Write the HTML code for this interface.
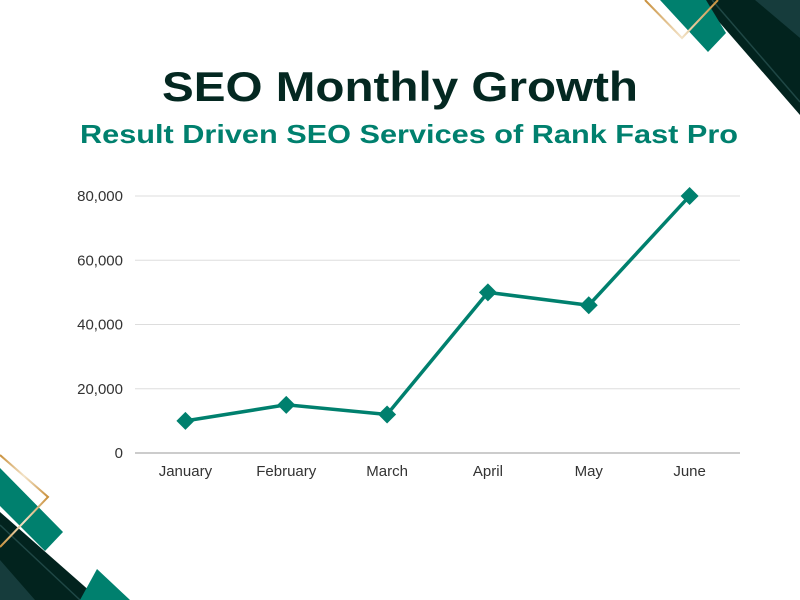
<!DOCTYPE html>
<html><head><meta charset="utf-8"><style>
body{margin:0;background:#fff}
svg{display:block;font-family:"Liberation Sans",sans-serif}
</style></head><body>
<svg width="800" height="600">
<defs>
<linearGradient id="g1" x1="0" y1="0" x2="1" y2="0"><stop offset="0" stop-color="#c9903c"/><stop offset="0.5" stop-color="#f3e3c8"/><stop offset="1" stop-color="#c9903c"/></linearGradient>
</defs>
<g>
<polygon points="700,0 800,0 800,115" fill="#02231e"/>
<polygon points="755,0 800,0 800,38" fill="#163c3c"/>
<line x1="712" y1="0" x2="800" y2="102" stroke="#1f4745" stroke-width="1.5"/>
<polygon points="660,0 706,0 726,33 708,52" fill="#00806e"/>
<polyline points="645,0 682,38 718,0" fill="none" stroke="url(#g1)" stroke-width="2"/>
</g>
<g>
<polygon points="0,468 63,532 45,551 0,506" fill="#00806e"/>
<polygon points="0,512 100,600 0,600" fill="#02231e"/>
<polygon points="0,560 35,600 0,600" fill="#163c3c"/>
<line x1="0" y1="525" x2="80" y2="600" stroke="#1f4745" stroke-width="1.5"/>
<polygon points="80,600 97,569 130,600" fill="#00806e"/>
<polyline points="0,455 48,497 0,547" fill="none" stroke="url(#g1)" stroke-width="2"/>
</g>
<text x="162" y="101" textLength="476" lengthAdjust="spacingAndGlyphs" font-size="42" font-weight="bold" fill="#042821">SEO Monthly Growth</text>
<text x="80" y="143" textLength="658" lengthAdjust="spacingAndGlyphs" font-size="26" font-weight="bold" fill="#00806e">Result Driven SEO Services of Rank Fast Pro</text>
<g id="grid"></g><g id="xl"></g><g id="plot"></g>
</svg>
<script>
const categories=["January","February","March","April","May","June"];
const seriesValues=[10000,15000,12000,50000,46000,80000];
const yTicks=[0,20000,40000,60000,80000];
const tickLabels=["0","20,000","40,000","60,000","80,000"];
const NS="http://www.w3.org/2000/svg";
const L=135,R=740,Y0=453,Y1=196,YMAX=80000;
const y=v=>Y0-(v/YMAX)*(Y0-Y1);
const bw=(R-L)/categories.length;
const x=i=>L+bw*(i+0.5);
function mk(t,a,p){const e=document.createElementNS(NS,t);for(const k in a)e.setAttribute(k,a[k]);p.appendChild(e);return e;}
const grid=document.getElementById('grid'),xl=document.getElementById('xl'),plot=document.getElementById('plot');
yTicks.forEach((v,i)=>{
 const ln=mk('line',{x1:L,x2:R,y1:y(v),y2:y(v),stroke:v===0?'#999':'#ddd','stroke-width':1},grid);
 
 
 const t=mk('text',{x:123,y:y(v)+5,'text-anchor':'end','font-size':15,fill:'#333'},grid);
 t.textContent=tickLabels[i];
 
 
});
categories.forEach((c,i)=>{
 const t=mk('text',{x:x(i),y:476,'text-anchor':'middle','font-size':15,fill:'#333'},xl);
 t.textContent=c;
 
 
});
const pl=mk('polyline',{points:seriesValues.map((v,i)=>x(i)+','+y(v)).join(' '),fill:'none',stroke:'#00806e','stroke-width':3.5},plot);


seriesValues.forEach((v,i)=>{
 const cx=x(i),cy=y(v),s=9;
 const p=mk('polygon',{points:`${cx},${cy-s} ${cx+s},${cy} ${cx},${cy+s} ${cx-s},${cy}`,fill:'#00806e'},plot);
 
 
});
</script>
</body></html>
